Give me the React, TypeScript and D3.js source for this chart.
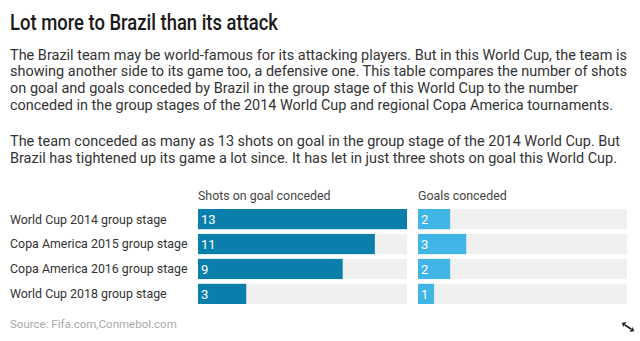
import { useEffect, useRef } from "react";
import { select, scaleLinear, scaleBand } from "d3";

const width = 640;
const height = 341;

const title = "Lot more to Brazil than its attack";
const introLines = [
  "The Brazil team may be world-famous for its attacking players. But in this World Cup, the team is",
  "showing another side to its game too, a defensive one. This table compares the number of shots",
  "on goal and goals conceded by Brazil in the group stage of this World Cup to the number",
  "conceded in the group stages of the 2014 World Cup and regional Copa America tournaments.",
];
const introWidths = [617, 617, 568, 603];
const noteLines = [
  "The team conceded as many as 13 shots on goal in the group stage of the 2014 World Cup. But",
  "Brazil has tightened up its game a lot since. It has let in just three shots on goal this World Cup.",
];
const noteWidths = [610, 607];

const tournaments = [
  "World Cup 2014 group stage",
  "Copa America 2015 group stage",
  "Copa America 2016 group stage",
  "World Cup 2018 group stage",
];
const shotsConceded = [13, 11, 9, 3];
const goalsConceded = [2, 3, 2, 1];
const columnTitles = ["Shots on goal conceded", "Goals conceded"];
const source = "Source: Fifa.com,Conmebol.com";

const font = "Roboto, 'Noto Sans', sans-serif";

export default function App() {
  const svgRef = useRef<SVGSVGElement | null>(null);

  useEffect(() => {
    document.body.style.margin = "0";
    const svg = select(svgRef.current);
    svg.selectAll("*").remove();

    svg
      .append("text")
      .attr("x", 10)
      .attr("y", 29.5)
      .attr("font-family", font)
      .attr("font-size", 21.5)
      .attr("font-weight", 500)
      .attr("fill", "#1a1a1a")
      .attr("textLength", 268)
      .attr("lengthAdjust", "spacingAndGlyphs")
      .text(title);

    const para = (lines: string[], widths: number[], y0: number) =>
      lines.forEach((line, i) => {
        svg
          .append("text")
          .attr("x", 10)
          .attr("y", y0 + i * 16.9)
          .attr("font-family", font)
          .attr("font-size", 14.5)
          .attr("fill", "#333")
          .attr("textLength", widths[i])
          .attr("lengthAdjust", "spacingAndGlyphs")
          .text(line);
      });
    para(introLines, introWidths, 59.5);
    para(noteLines, noteWidths, 146);

    const y = scaleBand<string>()
      .domain(tournaments)
      .range([209, 304])
      .paddingInner(0.19)
      .paddingOuter(0);

    const xShots = scaleLinear().domain([0, 13]).range([198, 407]);
    const xGoals = scaleLinear().domain([0, 13]).range([418, 627]);

    // row labels
    svg
      .selectAll(".label")
      .data(tournaments)
      .enter()
      .append("text")
      .attr("x", 10)
      .attr("y", (d) => y(d)! + y.bandwidth() / 2)
      .attr("dy", "0.36em")
      .attr("font-family", font)
      .attr("font-size", 12.4)
      .attr("fill", "#333")
      .text((d) => d);

    const column = (
      values: number[],
      x: typeof xShots,
      color: string,
      heading: string
    ) => {
      svg
        .append("text")
        .attr("x", x(0))
        .attr("y", 200)
        .attr("font-family", font)
        .attr("font-size", 12.4)
        .attr("fill", "#444")
        .text(heading);

      const g = svg.append("g");
      g.selectAll(".track")
        .data(tournaments)
        .enter()
        .append("rect")
        .attr("x", x(0))
        .attr("y", (d) => y(d)!)
        .attr("width", x(13) - x(0))
        .attr("height", y.bandwidth())
        .attr("fill", "#f0f0f0");
      g.selectAll(".bar")
        .data(values)
        .enter()
        .append("rect")
        .attr("x", x(0))
        .attr("y", (_, i) => y(tournaments[i])!)
        .attr("width", (v) => x(v) - x(0))
        .attr("height", y.bandwidth())
        .attr("fill", color);
      g.selectAll(".val")
        .data(values)
        .enter()
        .append("text")
        .attr("x", x(0) + 3)
        .attr("y", (_, i) => y(tournaments[i])! + y.bandwidth() / 2)
        .attr("dy", "0.36em")
        .attr("font-family", font)
        .attr("font-size", 13)
        .attr("fill", "#fff")
        .text((v) => v);
    };
    column(shotsConceded, xShots, "#0b7fab", columnTitles[0]);
    column(goalsConceded, xGoals, "#41b6e6", columnTitles[1]);

    svg
      .append("text")
      .attr("x", 10)
      .attr("y", 328)
      .attr("font-family", font)
      .attr("font-size", 11.5)
      .attr("fill", "#aaa")
      .text(source);

    // fullscreen icon
    const icon = svg
      .append("g")
      .attr("transform", "translate(628,327)")
      .attr("stroke", "#222")
      .attr("fill", "#222");
    icon.append("line").attr("x1", -3).attr("y1", -2).attr("x2", 3).attr("y2", 2).attr("stroke-width", 1.6);
    icon.append("path").attr("d", "M-6,-4 L-2,-4.5 L-4.5,-0.5 Z").attr("stroke-width", 0.5);
    icon.append("path").attr("d", "M6,4 L2,4.5 L4.5,0.5 Z").attr("stroke-width", 0.5);
  }, []);

  return (
    <svg
      ref={svgRef}
      width={width}
      height={height}
      style={{ display: "block", background: "#fff" }}
    />
  );
}
